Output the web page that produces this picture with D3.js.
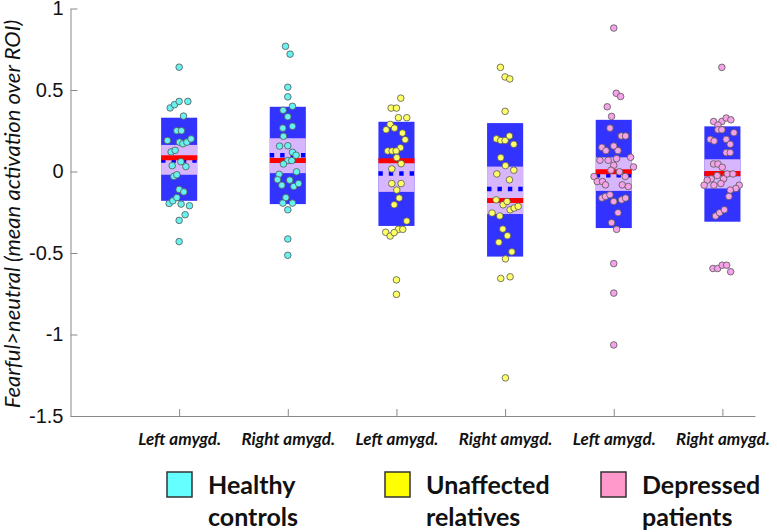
<!DOCTYPE html>
<html>
<head>
<meta charset="utf-8">
<script src="https://cdn.jsdelivr.net/npm/d3@7"></script>
<style>
  html, body { margin: 0; padding: 0; background: #fff; }
  svg { display: block; }
</style>
</head>
<body>
<svg id="chart" width="777" height="532"></svg>
<script>
// ---------- data ----------
const categories = ["Left amygd.", "Right amygd.", "Left amygd.", "Right amygd.", "Left amygd.", "Right amygd."];
const groupOfCategory = [0, 0, 1, 1, 2, 2];
const legendLine1 = ["Healthy", "Unaffected", "Depressed"];
const legendLine2 = ["controls", "relatives", "patients"];
const yTicks = [1, 0.5, 0, -0.5, -1, -1.5];

const boxHigh = [0.33, 0.397, 0.305, 0.297, 0.317, 0.277];
const boxLow = [-0.18, -0.20, -0.334, -0.522, -0.347, -0.308];
const ciHigh = [0.163, 0.204, 0.07, 0.03, 0.087, 0.075];
const ciLow = [-0.02, -0.01, -0.125, -0.261, -0.119, -0.104];
const means = [0.085, 0.067, 0.066, -0.178, -0.002, -0.013];
const medians = [0.067, 0.10, -0.013, -0.108, -0.023, -0.015];

const vals1 = [0.64,0.39,0.41,0.43,0.43,0.34,0.25,0.25,0.19,0.18,0.17,0.18,0.20,0.12,0.13,0.06,0.03,0.036,-0.03,-0.02,-0.11,-0.125,-0.196,-0.18,-0.16,-0.2,-0.21,-0.265,-0.30,-0.43];
const jit1 = [0,-0.083,-0.043,0,0.080,0.040,-0.021,0.021,-0.108,0.003,0.034,0.071,0.110,-0.074,-0.037,0.016,0.062,-0.064,-0.049,-0.021,0,0.043,-0.092,-0.058,-0.021,0.018,0.095,0.055,0,0];

const vals2 = [0.768,0.72,0.517,0.458,0.376,0.40,0.336,0.266,0.277,0.216,0.156,0.158,0.118,0.10,0.067,0.067,0.046,-0.002,-0.017,-0.05,-0.084,-0.053,-0.092,-0.074,-0.16,-0.194,-0.194,-0.235,-0.414,-0.514];
const jit2 = [-0.021,0.021,0,0,-0.043,0.043,0,-0.046,0.043,-0.040,-0.076,0,0.043,0.076,0,0.037,-0.040,0.080,-0.080,-0.095,-0.055,0.018,0.055,0.099,-0.018,-0.046,0.043,0,0,0];

const vals3 = [0.45,0.389,0.389,0.33,0.33,0.289,0.256,0.266,0.236,0.195,0.146,0.126,0.126,0.126,0.085,0.048,0.016,-0.074,-0.074,-0.114,-0.163,-0.204,-0.304,-0.355,-0.355,-0.373,-0.396,-0.375,-0.665,-0.754];
const jit3 = [0.040,-0.049,0,0.018,0.095,-0.058,-0.095,-0.018,0.055,0.080,0.037,-0.080,-0.040,-0.003,0.003,0.043,-0.043,-0.043,0.043,0.003,0.025,-0.021,0.095,0.018,0.058,-0.099,-0.058,-0.021,0,0];

const vals4 = [0.639,0.58,0.568,0.369,0.218,0.2,0.19,0.19,0.167,0.085,0.036,0.008,-0.015,-0.051,-0.174,-0.204,-0.184,-0.235,-0.224,-0.214,-0.255,-0.273,-0.353,-0.394,-0.434,-0.493,-0.536,-0.656,-0.646,-1.266];
const jit4 = [-0.043,0,0.043,0,0.040,-0.080,-0.040,0,0.080,-0.040,0.003,0.080,-0.076,0.040,-0.083,-0.018,0.018,0.046,0.083,0.120,-0.120,-0.049,-0.021,0.021,-0.058,0.062,0.003,-0.040,0.046,0.003];

const vals5 = [0.88,0.48,0.46,0.397,0.338,0.266,0.218,0.218,0.148,0.156,0.128,0.128,0.069,0.069,0.079,0.087,0.038,0.028,0.008,-0.002,-0.031,-0.031,-0.062,-0.062,-0.082,-0.082,-0.092,-0.163,-0.153,-0.143,-0.184,-0.174,-0.163,-0.253,-0.314,-0.355,-0.565,-0.746,-1.064];
const jit5 = [0,0.023,0.063,-0.060,-0.020,-0.035,0.069,0.109,-0.109,0,-0.072,0.039,-0.127,-0.051,0.026,0.155,0,0.182,-0.026,0.053,-0.182,0.106,-0.152,-0.103,-0.076,0.078,0.134,-0.109,-0.076,-0.035,0,0.072,0.109,0.039,-0.020,0.026,0,0,0];

const vals6 = [0.639,0.307,0.307,0.328,0.317,0.285,0.256,0.256,0.238,0.197,0.187,0.197,0.167,0.116,0.116,0.046,0.046,0.026,-0.025,-0.015,-0.015,-0.045,-0.053,-0.045,-0.084,-0.084,-0.074,-0.084,-0.104,-0.114,-0.153,-0.273,-0.253,-0.235,-0.595,-0.595,-0.575,-0.575,-0.615];
const jit6 = [-0.005,-0.081,-0.005,0.035,0.078,-0.041,-0.041,-0.005,0.106,-0.112,-0.076,0.035,0.072,0.035,0.072,-0.081,-0.041,-0.002,-0.048,0.044,0.097,-0.103,-0.140,0.011,-0.168,-0.078,-0.014,0.155,0.124,0.072,0.060,-0.063,-0.026,0.018,-0.087,-0.044,-0.002,0.039,0.076];

const allVals = [vals1, vals2, vals3, vals4, vals5, vals6];
const allJit = [jit1, jit2, jit3, jit4, jit5, jit6];

const pointColors = ["#66f2f0", "#ffff66", "#f5a2e8"];
const legendColors = ["#66ffff", "#ffff00", "#ff99cc"];

// ---------- layout ----------
const svg = d3.select("#chart");
const x = d3.scaleLinear().domain([0, 6.3]).range([70.5, 755]);
const y = d3.scaleLinear().domain([-1.5, 1]).range([416, 8.5]);
const halfW = 0.166;
const boxBlue = "#3333ff";
const ciPurple = "#d8b6fd";

// axes
const yAxis = d3.axisLeft(y).tickValues(yTicks).tickFormat(d => String(d))
  .tickSizeInner(-7).tickSizeOuter(0).tickPadding(7);
const gy = svg.append("g").attr("transform", `translate(${x(0)},0)`).call(yAxis);
gy.selectAll("path, line").attr("stroke", "#8a8a8a");
gy.selectAll("text").attr("font-family", "'Liberation Sans', Arial, sans-serif")
  .attr("font-size", 20).attr("fill", "#111");

const xAxis = d3.axisBottom(x).tickValues(d3.range(1, categories.length + 1))
  .tickFormat((d, i) => categories[i]).tickSizeInner(-7).tickSizeOuter(0).tickPadding(17);
const gx = svg.append("g").attr("transform", `translate(0,${y(-1.5)})`).call(xAxis);
gx.selectAll("path, line").attr("stroke", "#8a8a8a");
gx.selectAll("text").attr("font-family", "Lato, sans-serif").attr("font-weight", "bold")
  .attr("font-style", "italic").attr("font-size", 17).attr("fill", "#111");

// y title
svg.append("text")
  .attr("transform", `translate(20,214) rotate(-90)`)
  .attr("text-anchor", "middle")
  .attr("font-family", "Lato, sans-serif").attr("font-style", "italic")
  .attr("font-size", 22).attr("fill", "#111")
  .text("Fearful>neutral (mean activation over ROI)");

// boxes
const idx = d3.range(categories.length);
const g = svg.append("g");
g.selectAll("rect.box").data(idx).join("rect").attr("class", "box")
  .attr("x", i => x(i + 1 - halfW)).attr("width", i => x(i + 1 + halfW) - x(i + 1 - halfW))
  .attr("y", i => y(boxHigh[i])).attr("height", i => y(boxLow[i]) - y(boxHigh[i]))
  .attr("fill", boxBlue);
g.selectAll("rect.ci").data(idx).join("rect").attr("class", "ci")
  .attr("x", i => x(i + 1 - halfW)).attr("width", i => x(i + 1 + halfW) - x(i + 1 - halfW))
  .attr("y", i => y(ciHigh[i])).attr("height", i => y(ciLow[i]) - y(ciHigh[i]))
  .attr("fill", ciPurple);
g.selectAll("line.med").data(idx).join("line").attr("class", "med")
  .attr("x1", i => x(i + 1 - halfW)).attr("x2", i => x(i + 1 + halfW))
  .attr("y1", i => y(medians[i])).attr("y2", i => y(medians[i]))
  .attr("stroke", "#0000ff").attr("stroke-width", 4.5).attr("stroke-dasharray", "4.4,6");
g.selectAll("line.mean").data(idx).join("line").attr("class", "mean")
  .attr("x1", i => x(i + 1 - halfW)).attr("x2", i => x(i + 1 + halfW))
  .attr("y1", i => y(means[i])).attr("y2", i => y(means[i]))
  .attr("stroke", "#ff0000").attr("stroke-width", 5);

// points
idx.forEach(i => {
  const pts = allVals[i].map((v, k) => ({ v, j: allJit[i][k] }));
  g.append("g").selectAll("circle").data(pts).join("circle")
    .attr("cx", d => x(i + 1 + d.j)).attr("cy", d => y(d.v)).attr("r", 3.3)
    .attr("fill", pointColors[groupOfCategory[i]])
    .attr("stroke", "#555").attr("stroke-width", 0.8);
});

// legend
const legendX = [167, 385, 601];
const leg = svg.append("g");
legendX.forEach((lx, k) => {
  leg.append("rect").attr("x", lx).attr("y", 472).attr("width", 25).attr("height", 25)
    .attr("fill", legendColors[k]).attr("stroke", "#333").attr("stroke-width", 1.5);
  const t = leg.append("text").attr("x", lx + 41).attr("y", 494)
    .attr("font-family", "Lato, sans-serif").attr("font-weight", "bold")
    .attr("font-size", 25).attr("fill", "#111");
  t.append("tspan").attr("x", lx + 41).attr("y", 494).text(legendLine1[k]);
  t.append("tspan").attr("x", lx + 41).attr("y", 526).text(legendLine2[k]);
});
</script>
</body>
</html>
